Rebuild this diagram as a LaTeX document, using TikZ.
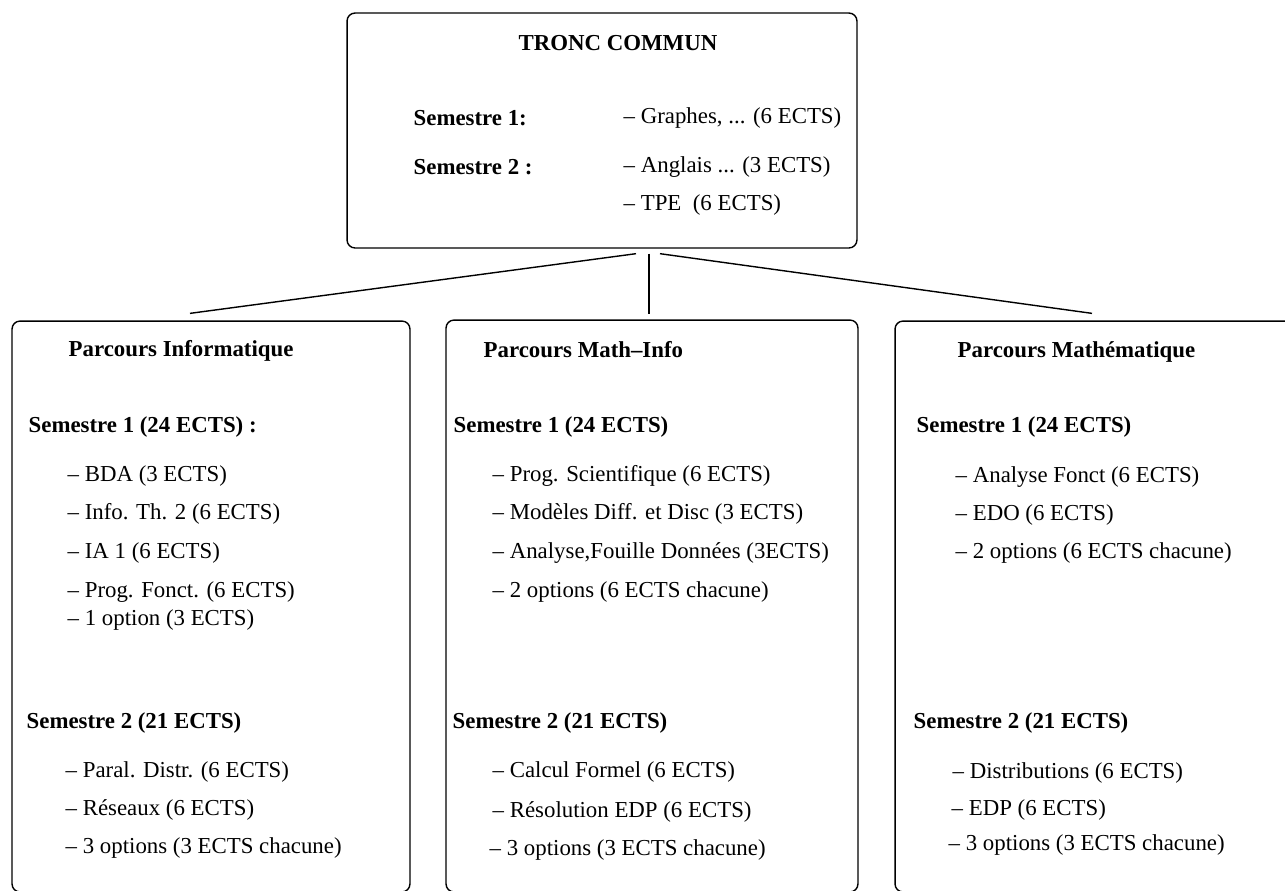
\documentclass[tikz,border=0pt]{standalone}
\usepackage{fontspec}
\setmainfont{Liberation Serif}
\usetikzlibrary{calc}

\begin{document}
\begin{tikzpicture}[x=0.02cm,y=-0.02cm,line width=0.8pt,
  box/.style={draw,rounded corners=0.16cm,inner sep=0pt},
  txt/.style={anchor=west,inner sep=0pt,font=\fontsize{13}{15}\selectfont},
  hd/.style={txt,font=\fontsize{13}{15}\selectfont\bfseries}]

\useasboundingbox (0,0) rectangle (1285,890);
\clip (0,0) rectangle (1285,890);

\node[box,minimum width=10.2cm,minimum height=4.7cm] (tc) at (602,130.5) {};
\node[box,minimum width=7.96cm,minimum height=11.42cm] (info) at (211,606.5) {};
\node[box,minimum width=8.24cm,minimum height=11.44cm] (mi) at (652,606) {};
\node[box,minimum width=8.1cm,minimum height=11.42cm] (math) at (1097.5,606.5) {};

\node[hd] (tc-h) at (518,43) {TRONC COMMUN};
\node[hd] (tc-s1) at (413,118) {Semestre 1:};
\node[txt] (tc-a) at (623,118) {– Graphes, ... (6 ECTS)};
\node[hd] (tc-s2) at (413,167) {Semestre 2 :};
\node[txt] (tc-b) at (623,167) {– Anglais ... (3 ECTS)};
\node[txt] (tc-c) at (623,205) {– TPE\ \ (6 ECTS)};

\node[hd] (info-h) at (68,351) {Parcours Informatique};
\node[hd] (info-s1) at (28,427) {Semestre 1 (24 ECTS) :};
\node[txt] (info-a) at (67,476) {– BDA (3 ECTS)};
\node[txt] (info-b) at (67,514) {– Info. Th. 2 (6 ECTS)};
\node[txt] (info-c) at (67,553) {– IA 1 (6 ECTS)};
\node[txt] (info-d) at (67,592) {– Prog. Fonct. (6 ECTS)};
\node[txt] (info-e) at (67,620) {– 1 option (3 ECTS)};
\node[hd] (info-s2) at (26,723) {Semestre 2 (21 ECTS)};
\node[txt] (info-f) at (65,772) {– Paral. Distr. (6 ECTS)};
\node[txt] (info-g) at (65,810) {– Réseaux (6 ECTS)};
\node[txt] (info-i) at (65,848) {– 3 options (3 ECTS chacune)};

\node[hd] (mi-h) at (483,350) {Parcours Math–Info};
\node[hd] (mi-s1) at (453,427) {Semestre 1 (24 ECTS)};
\node[txt] (mi-a) at (492,476) {– Prog. Scientifique (6 ECTS)};
\node[txt] (mi-b) at (492,514) {– Modèles Diff. et Disc (3 ECTS)};
\node[txt] (mi-c) at (492,553) {– Analyse,Fouille Données (3ECTS)};
\node[txt] (mi-d) at (492,592) {– 2 options (6 ECTS chacune)};
\node[hd] (mi-s2) at (452,723) {Semestre 2 (21 ECTS)};
\node[txt] (mi-f) at (492,772) {– Calcul Formel (6 ECTS)};
\node[txt] (mi-g) at (492,812) {– Résolution EDP (6 ECTS)};
\node[txt] (mi-i) at (489,850) {– 3 options (3 ECTS chacune)};

\node[hd] (math-h) at (957,352) {Parcours Mathématique};
\node[hd] (math-s1) at (916,427) {Semestre 1 (24 ECTS)};
\node[txt] (math-a) at (955,477) {– Analyse Fonct (6 ECTS)};
\node[txt] (math-b) at (955,515) {– EDO (6 ECTS)};
\node[txt] (math-c) at (955,553) {– 2 options (6 ECTS chacune)};
\node[hd] (math-s2) at (913,723) {Semestre 2 (21 ECTS)};
\node[txt] (math-f) at (952,773) {– Distributions (6 ECTS)};
\node[txt] (math-g) at (951,810) {– EDP (6 ECTS)};
\node[txt] (math-i) at (948,845) {– 3 options (3 ECTS chacune)};

\draw ($(tc.south)+(34,5)$) -- ($(info.north)+(-21,-7)$);
\draw ($(tc.south)+(47,5)$) -- ($(mi.north)+(-3,-5)$);
\draw ($(tc.south)+(58,5)$) -- ($(math.north)+(-5.5,-7)$);

\end{tikzpicture}
\end{document}
